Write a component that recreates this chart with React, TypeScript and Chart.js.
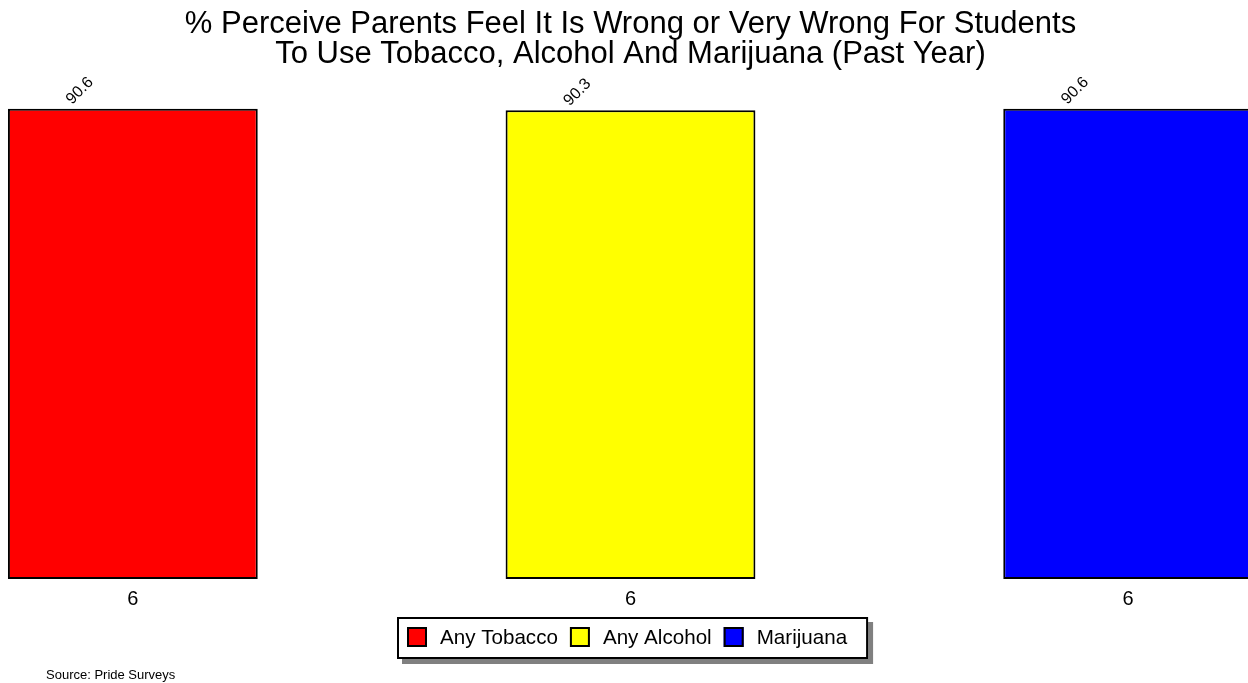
import React, { useEffect, useRef } from "react";
import { Chart, registerables } from "chart.js";

Chart.register(...registerables);

// ---- data ----
const CATEGORIES = ["6", "6", "6"];
const SERIES_NAMES = ["Any Tobacco", "Any Alcohol", "Marijuana"];
const SERIES_COLORS = ["#ff0000", "#ffff00", "#0000ff"];
const TOBACCO = [90.6, null, null];
const ALCOHOL = [null, 90.3, null];
const MARIJUANA = [null, null, 90.6];
const TITLE_LINES = [
  "% Perceive Parents Feel It Is Wrong or Very Wrong For Students",
  "To Use Tobacco, Alcohol And Marijuana (Past Year)",
];
const SOURCE_TEXT = "Source: Pride Surveys";
const Y_MIN = 0;
const Y_MAX = 100;

const FONT = '"Liberation Sans", Arial, Helvetica, sans-serif';

const decorPlugin = {
  id: "decor",
  afterDatasetsDraw(chart: any) {
    const ctx = chart.ctx;
    chart.data.datasets.forEach((ds: any, di: number) => {
      const meta = chart.getDatasetMeta(di);
      meta.data.forEach((bar: any, i: number) => {
        const v = ds.data[i];
        if (v == null) return;
        ctx.save();
        ctx.translate(bar.x - 53, bar.y - 18);
        ctx.rotate(-Math.PI / 4);
        ctx.font = `16px ${FONT}`;
        ctx.fillStyle = "#000";
        ctx.textAlign = "center";
        ctx.textBaseline = "middle";
        ctx.fillText(Number(v).toFixed(1), 0, 0);
        ctx.restore();
      });
    });
  },
  afterDraw(chart: any) {
    const ctx = chart.ctx;
    const area = chart.chartArea;
    const cx = (area.left + area.right) / 2;

    // title
    ctx.save();
    ctx.font = `31px ${FONT}`;
    ctx.fillStyle = "#000";
    ctx.textAlign = "center";
    ctx.textBaseline = "alphabetic";
    TITLE_LINES.forEach((line, i) => ctx.fillText(line, cx, 33 + i * 30));
    ctx.restore();

    // legend
    ctx.save();
    ctx.font = `20.6px ${FONT}`;
    const widths = SERIES_NAMES.map((n) => ctx.measureText(n).width);
    const padL = 10, padR = 21, sq = 20, gapSqText = 13, gapItem = 12;
    const boxW =
      padL +
      widths.reduce((a, w) => a + sq + gapSqText + w, 0) +
      gapItem * (SERIES_NAMES.length - 1) +
      padR;
    const boxH = 42;
    const left = Math.round(cx + 2 - boxW / 2);
    const top = Math.round(area.bottom + 38);
    ctx.fillStyle = "#808080";
    ctx.fillRect(left + 5, top + 5, boxW, boxH);
    ctx.fillStyle = "#ffffff";
    ctx.fillRect(left, top, boxW, boxH);
    ctx.lineWidth = 2;
    ctx.strokeStyle = "#000";
    ctx.strokeRect(left + 1, top + 1, boxW - 2, boxH - 2);
    let x = left + padL;
    SERIES_NAMES.forEach((name, i) => {
      ctx.fillStyle = SERIES_COLORS[i];
      ctx.fillRect(x, top + 10, sq, sq);
      ctx.strokeStyle = "#000";
      ctx.lineWidth = 2;
      ctx.strokeRect(x + 1, top + 11, sq - 2, sq - 2);
      ctx.fillStyle = "#000";
      ctx.textAlign = "left";
      ctx.textBaseline = "middle";
      ctx.fillText(name, x + sq + gapSqText, top + 21);
      x += sq + gapSqText + widths[i] + gapItem;
    });
    ctx.restore();

    // source
    ctx.save();
    ctx.font = `13px ${FONT}`;
    ctx.fillStyle = "#000";
    ctx.textAlign = "left";
    ctx.textBaseline = "middle";
    ctx.fillText(SOURCE_TEXT, area.left + 162, 675);
    ctx.restore();
  },
};

export default function App() {
  const ref = useRef<HTMLCanvasElement | null>(null);

  useEffect(() => {
    if (!ref.current) return;
    const series = [TOBACCO, ALCOHOL, MARIJUANA];
    const chart = new Chart(ref.current, {
      type: "bar",
      data: {
        labels: CATEGORIES,
        datasets: series.map((d, i) => ({
          label: SERIES_NAMES[i],
          data: d,
          backgroundColor: SERIES_COLORS[i],
          borderColor: "#000000",
          borderWidth: 2,
          borderSkipped: false,
          grouped: false,
          categoryPercentage: 1,
          barPercentage: 0.502,
        })),
      },
      options: {
        animation: false,
        responsive: false,
        devicePixelRatio: 1,
        layout: { padding: { top: 60, bottom: 64, left: 0, right: 0 } },
        plugins: {
          legend: { display: false },
          title: { display: false },
          tooltip: { enabled: false },
        },
        scales: {
          x: {
            grid: { display: false, drawTicks: false },
            border: { display: false },
            ticks: {
              padding: 8,
              color: "#000",
              font: { family: FONT, size: 20 },
            },
          },
          y: {
            display: false,
            min: Y_MIN,
            max: Y_MAX,
          },
        },
      },
      plugins: [decorPlugin],
    } as any);
    return () => chart.destroy();
  }, []);

  return (
    <div
      style={{
        position: "fixed",
        left: 0,
        top: 0,
        width: "100vw",
        height: "100vh",
        overflow: "hidden",
        background: "#fff",
      }}
    >
      <div style={{ position: "absolute", left: -116, top: 0, width: 1493, height: 683 }}>
        <canvas ref={ref} width={1493} height={683} style={{ width: 1493, height: 683 }} />
      </div>
    </div>
  );
}
